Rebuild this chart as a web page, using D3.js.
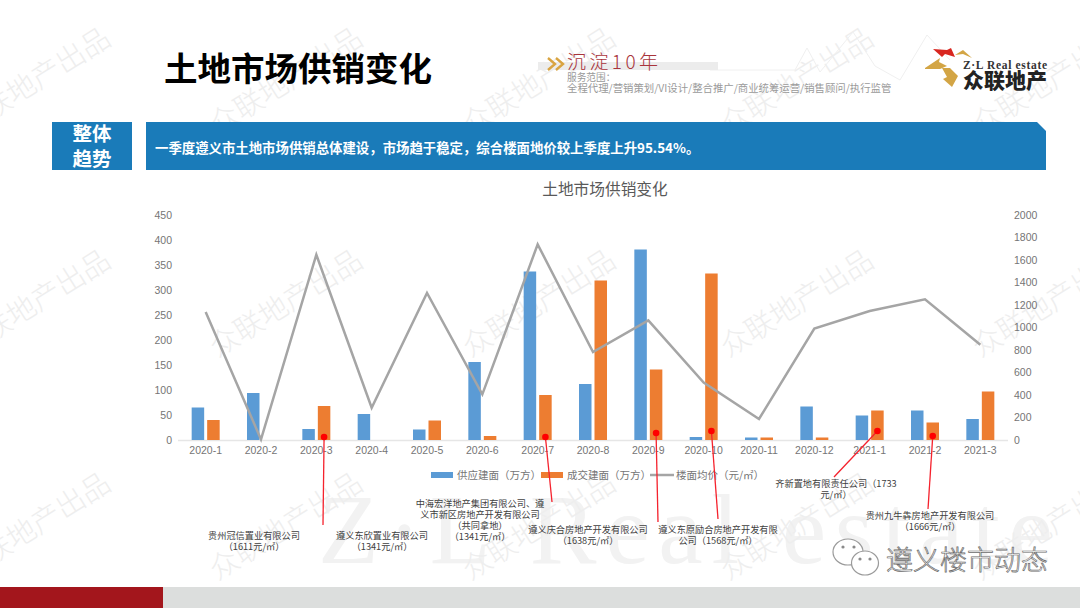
<!DOCTYPE html>
<html>
<head>
<meta charset="utf-8">
<script src="https://cdn.jsdelivr.net/npm/d3@7"></script>
<style>
  body { margin: 0; background: #fff; }
  text { font-family: "Noto Sans CJK SC", sans-serif; }
  .axis text { font-family: "Liberation Sans", sans-serif; font-size: 10.5px; fill: #757575; }
  .axis .domain, .axis line { display: none; }
</style>
</head>
<body>
<div id="main"></div>
<script>
/*********************************************************
 * Data
 *********************************************************/
const months = ['2020-1', '2020-2', '2020-3', '2020-4', '2020-5', '2020-6', '2020-7', '2020-8',
  '2020-9', '2020-10', '2020-11', '2020-12', '2021-1', '2021-2', '2021-3'];
const supplyArea = [65, 94, 22, 52, 21, 156, 337, 112, 381, 6, 5, 67, 49, 59, 42];
const dealArea = [40, 0, 68, 0, 39, 8, 90, 319, 141, 333, 5, 5, 59, 35, 97];
const floorPrice = [1138, 5, 1647, 287, 1307, 406, 1739, 782, 1064, 510, 187, 990, 1147, 1250, 847];
const leftTicks = [0, 50, 100, 150, 200, 250, 300, 350, 400, 450];
const rightTicks = [0, 200, 400, 600, 800, 1000, 1200, 1400, 1600, 1800, 2000];
const seriesNames = ['供应建面（万方）', '成交建面（万方）', '楼面均价（元/㎡）'];

// land deals marked on the deal bars: month and height of the dot on the left axis
const dealMonths = ['2020-3', '2020-7', '2020-9', '2020-10', '2021-1', '2021-2'];
const dealDots = [6, 6, 14, 18, 18, 8];
const dealLabels = [
  ['贵州冠信置业有限公司', '（1611元/㎡）'],
  ['遵义东欣置业有限公司', '（1341元/㎡）'],
  ['中海宏洋地产集团有限公司、遵', '义市新区房地产开发有限公司', '（共同拿地）', '（1341元/㎡）'],
  ['遵义庆合房地产开发有限公司', '（1638元/㎡）'],
  ['遵义东原励合房地产开发有限', '公司（1568元/㎡）'],
  ['齐新置地有限责任公司（1733', '元/㎡）'],
  ['贵州九牛犇房地产开发有限公司', '（1666元/㎡）']
];

/*********************************************************
 * Layout
 *********************************************************/
const svgWidth = 1080;
const svgHeight = 608;
const plot = { l: 178, r: 1008, t: 215, b: 440 };
const barWidth = 12.5;
const barGap = 3;

const leaderEnds = [[323, 525], [552, 502], [658, 522], [718, 519], [834, 477], [928, 509]];
const labelPos = [[254, 536], [382, 536], [480, 504], [588, 530], [718, 530], [836, 484], [930, 516]];
const markCols = [35, 287, 540, 798, 1050];
const markRows = [83, 305, 528];

const svg = d3.select('#main').append('svg')
  .attr('width', svgWidth)
  .attr('height', svgHeight)
  .style('display', 'block');

/*********************************************************
 * Background: big logo letters and watermarks
 *********************************************************/
svg.append('text')
  .attr('x', 318).attr('y', 563)
  .attr('textLength', 735)
  .attr('lengthAdjust', 'spacing')
  .style('font-family', '"Liberation Serif", serif')
  .style('font-size', '100px')
  .attr('fill', '#f2f2f2')
  .text('Z·L Real estate');

markRows.forEach(r => markCols.forEach(c => {
  svg.append('text')
    .attr('transform', `translate(${c},${r}) rotate(-32)`)
    .attr('text-anchor', 'middle')
    .attr('dominant-baseline', 'middle')
    .style('font-size', '29px')
    .style('font-weight', 300)
    .attr('fill', '#eeeeee')
    .text('众联地产出品');
}));

// faint ridge behind the logo
svg.append('path')
  .attr('d', d3.line()([[710, 70], [795, 70], [807, 48], [820, 72], [853, 32], [875, 66], [900, 80], [927, 35], [950, 60]]))
  .attr('fill', 'none')
  .attr('stroke', '#f0f0f0');

/*********************************************************
 * Header
 *********************************************************/
svg.append('text')
  .attr('x', 164).attr('y', 81)
  .style('font-size', '33.5px')
  .style('font-weight', 700)
  .attr('fill', '#000')
  .text('土地市场供销变化');

// slogan
svg.append('rect').attr('x', 538).attr('y', 62).attr('width', 180).attr('height', 8).attr('fill', '#ececec');
[548, 556].forEach(cx => {
  svg.append('path')
    .attr('d', d3.line()([[cx, 58], [cx + 7, 64], [cx, 70]]))
    .attr('fill', 'none').attr('stroke', '#d9a441').attr('stroke-width', 2.4);
});
svg.append('text').attr('x', 567).attr('y', 69)
  .attr('textLength', 91)
  .style('font-size', '19px').style('font-weight', 300).attr('fill', '#a9343b').text('沉淀10年');
svg.append('text').attr('x', 567).attr('y', 81)
  .style('font-size', '9.7px').attr('fill', '#9a9a9a').text('服务范围：');
svg.append('text').attr('x', 567).attr('y', 92)
  .style('font-size', '10.4px').attr('fill', '#9a9a9a')
  .text('全程代理/营销策划/VI设计/整合推广/商业统筹运营/销售顾问/执行监管');

// logo
const logoLine = d3.line();
[
  { fill: '#d8261f', pts: [[933, 49], [947, 50], [951, 48], [955, 57], [945, 54], [942, 57]] },
  { fill: '#d3a545', pts: [[955, 55], [963, 50], [972, 58], [963, 54]] },
  { fill: '#d3a545', pts: [[925, 68], [940, 58], [939, 62], [947, 66], [940, 69], [925, 69]] },
  { fill: '#d3a545', pts: [[942, 68], [950, 68], [956, 74], [958, 76], [952, 87], [943, 79], [947, 77]] }
].forEach(s => {
  svg.append('path').attr('d', logoLine(s.pts) + 'Z').attr('fill', s.fill);
});
svg.append('text').attr('x', 963).attr('y', 69)
  .attr('textLength', 84)
  .style('font-family', '"Liberation Serif", serif')
  .style('font-size', '11.5px').style('font-weight', 700).attr('fill', '#333')
  .text('Z·L Real estate');
svg.append('text').attr('x', 963).attr('y', 88)
  .style('font-size', '21px').style('font-weight', 900).attr('fill', '#222')
  .text('众联地产');

// trend banner
svg.append('rect').attr('x', 52).attr('y', 122).attr('width', 80).attr('height', 48).attr('fill', '#1a7bb9');
svg.append('path')
  .attr('d', 'M146,122H1037L1046,131V170H146Z')
  .attr('fill', '#1a7bb9');
['整体', '趋势'].forEach((t, i) => {
  svg.append('text')
    .attr('x', 92).attr('y', 141 + i * 25)
    .attr('text-anchor', 'middle')
    .style('font-size', '19.5px').style('font-weight', 700)
    .attr('fill', '#fff')
    .text(t);
});
svg.append('text')
  .attr('x', 155).attr('y', 153)
  .style('font-size', '13.4px').style('font-weight', 700)
  .attr('fill', '#fff')
  .text('一季度遵义市土地市场供销总体建设，市场趋于稳定，综合楼面地价较上季度上升95.54%。');

/*********************************************************
 * Chart
 *********************************************************/
svg.append('text')
  .attr('x', 605).attr('y', 195)
  .attr('text-anchor', 'middle')
  .style('font-size', '15.7px')
  .attr('fill', '#595959')
  .text('土地市场供销变化');

const x = d3.scaleBand().domain(months).range([plot.l, plot.r]);
const yLeft = d3.scaleLinear().domain([0, 450]).range([plot.b, plot.t]);
const yRight = d3.scaleLinear().domain([0, 2000]).range([plot.b, plot.t]);
const center = m => x(m) + x.bandwidth() / 2;

svg.append('g').attr('class', 'axis')
  .attr('transform', `translate(${plot.l - 2},0)`)
  .call(d3.axisLeft(yLeft).tickValues(leftTicks).tickSize(0).tickPadding(4));
svg.append('g').attr('class', 'axis')
  .attr('transform', `translate(${plot.r + 2},0)`)
  .call(d3.axisRight(yRight).tickValues(rightTicks).tickFormat(d3.format('d')).tickSize(0).tickPadding(4));
svg.append('g').attr('class', 'axis')
  .attr('transform', `translate(0,${plot.b + 6})`)
  .call(d3.axisBottom(x).tickSize(0).tickPadding(1));

svg.append('line')
  .attr('x1', plot.l).attr('x2', plot.r)
  .attr('y1', plot.b + 0.5).attr('y2', plot.b + 0.5)
  .attr('stroke', '#e6e6e6').attr('stroke-width', 1.5);

svg.append('g').selectAll('rect').data(supplyArea).join('rect')
  .attr('x', (d, i) => center(months[i]) - barGap / 2 - barWidth)
  .attr('y', d => yLeft(d))
  .attr('width', barWidth)
  .attr('height', d => plot.b - yLeft(d))
  .attr('fill', '#5b9bd5');

svg.append('g').selectAll('rect').data(dealArea).join('rect')
  .attr('x', (d, i) => center(months[i]) + barGap / 2)
  .attr('y', d => yLeft(d))
  .attr('width', barWidth)
  .attr('height', d => plot.b - yLeft(d))
  .attr('fill', '#ed7d31');

const priceLine = d3.line()
  .x((d, i) => center(months[i]))
  .y(d => yRight(d));
svg.append('path')
  .attr('d', priceLine(floorPrice))
  .attr('fill', 'none')
  .attr('stroke', '#a5a5a5')
  .attr('stroke-width', 2.5)
  .attr('stroke-linejoin', 'miter');

// legend
const legendX = [431, 541, 650];
const legendColors = ['#5b9bd5', '#ed7d31', '#a5a5a5'];
seriesNames.forEach((name, i) => {
  if (i < 2) {
    svg.append('rect')
      .attr('x', legendX[i]).attr('y', 472).attr('width', 22).attr('height', 6)
      .attr('fill', legendColors[i]);
  } else {
    svg.append('line')
      .attr('x1', legendX[i]).attr('x2', legendX[i] + 24)
      .attr('y1', 475).attr('y2', 475)
      .attr('stroke', legendColors[i]).attr('stroke-width', 2.5);
  }
  svg.append('text')
    .attr('x', legendX[i] + 26).attr('y', 479)
    .style('font-size', '10.5px')
    .attr('fill', '#757575')
    .text(name);
});

/*********************************************************
 * Deal callouts
 *********************************************************/
dealMonths.forEach((m, i) => {
  const cx = center(m) + barGap / 2 + barWidth / 2;
  const cy = yLeft(dealDots[i]);
  svg.append('line')
    .attr('x1', cx).attr('y1', cy)
    .attr('x2', leaderEnds[i][0]).attr('y2', leaderEnds[i][1])
    .attr('stroke', '#f5222d').attr('stroke-width', 1.3);
  svg.append('circle')
    .attr('cx', cx).attr('cy', cy).attr('r', 3.3)
    .attr('fill', '#ff0000');
});

dealLabels.forEach((lines, i) => {
  lines.forEach((t, j) => {
    svg.append('text')
      .attr('x', labelPos[i][0]).attr('y', labelPos[i][1] + j * 11)
      .attr('text-anchor', 'middle')
      .attr('dominant-baseline', 'middle')
      .style('font-size', '9.2px')
      .attr('fill', '#404040')
      .text(t);
  });
});

/*********************************************************
 * Footer
 *********************************************************/
svg.append('rect').attr('x', 0).attr('y', 587).attr('width', 1080).attr('height', 21).attr('fill', '#dcdedd');
svg.append('rect').attr('x', 0).attr('y', 587).attr('width', 163).attr('height', 21).attr('fill', '#a3161c');

// wechat mark
[[848, 552, 15, 13], [865, 563, 13.5, 12]].forEach(b => {
  svg.append('ellipse')
    .attr('cx', b[0]).attr('cy', b[1]).attr('rx', b[2]).attr('ry', b[3])
    .attr('fill', '#fff').attr('stroke', '#9a9a9a').attr('stroke-width', 1.2);
});
[[843, 547], [854, 547], [860, 559], [870, 559]].forEach(p => {
  svg.append('circle').attr('cx', p[0]).attr('cy', p[1]).attr('r', 1.6).attr('fill', '#8a8a8a');
});
svg.append('text')
  .attr('x', 886).attr('y', 570)
  .style('font-size', '27px')
  .style('font-weight', 300)
  .attr('fill', '#fff')
  .attr('stroke', '#6a6a6a')
  .attr('stroke-width', 0.7)
  .text('遵义楼市动态');
</script>
</body>
</html>
